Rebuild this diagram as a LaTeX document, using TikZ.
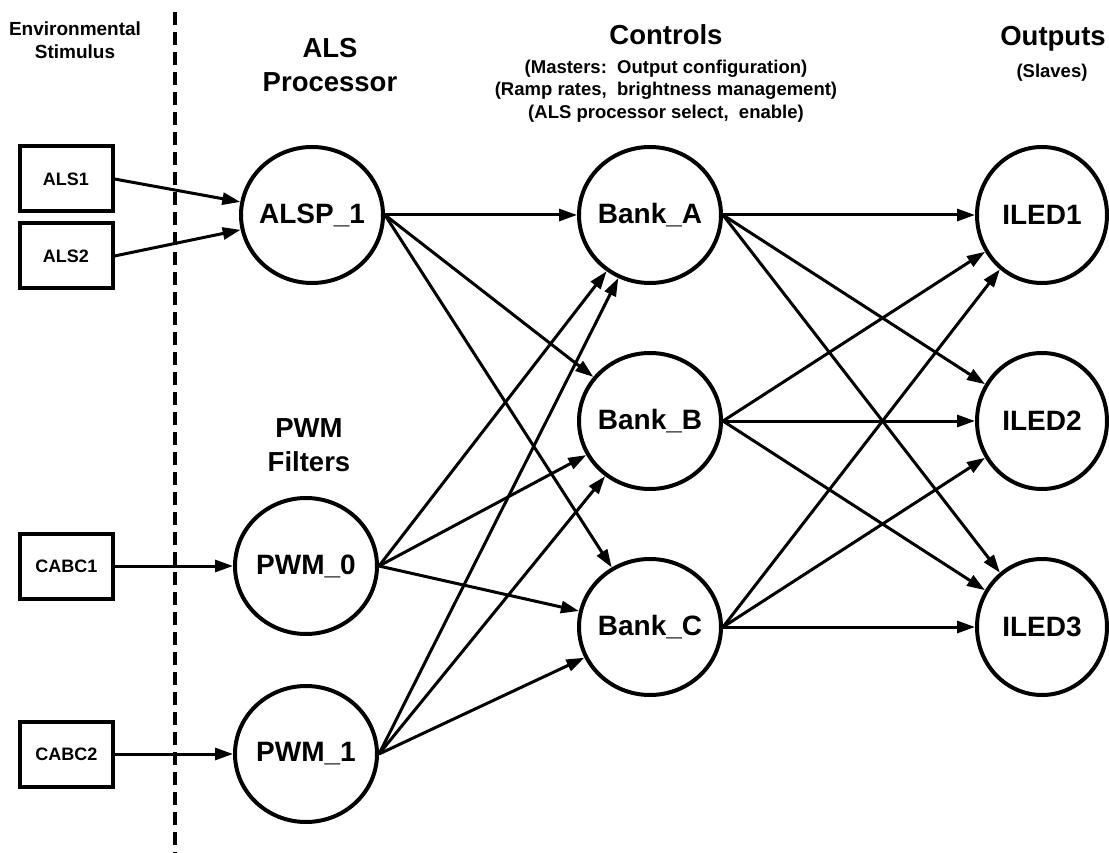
\documentclass[tikz,border=0pt]{standalone}
\usepackage{fontspec}
\setmainfont{Liberation Sans}
\usetikzlibrary{positioning,shapes.geometric,arrows.meta}

\tikzset{
  stimbox/.style={draw, line width=4pt, minimum width=93pt, minimum height=65pt, inner sep=0pt, font=\fontsize{18}{22}\selectfont\bfseries},
  proc/.style={ellipse, draw, line width=4pt, minimum width=142pt, minimum height=136pt, inner xsep=-20pt, inner ysep=0pt, font=\fontsize{28}{34}\selectfont\bfseries},
  outnode/.style={proc, minimum width=130pt},
  link/.style={line width=3pt, -{Triangle[length=18pt,width=12pt]}},
  heading/.style={align=center, font=\fontsize{27.5}{34}\selectfont\bfseries},
  note/.style={align=center, font=\fontsize{18.5}{22.5}\selectfont\bfseries},
}

\begin{document}
\begin{tikzpicture}[x=1pt, y=-1pt]
    \useasboundingbox (0,0) rectangle (1109,853);

    % column headings
    \node[note, font=\fontsize{19}{23}\selectfont\bfseries] (envhead) at (75,40) {Environmental\\Stimulus};
    \node[heading] (alshead) at (330,65) {ALS\\Processor};
    \node[heading] (pwmhead) at (309,445) {PWM\\Filters};
    \node[heading] (ctrlhead) at (666,35) {Controls};
    \node[note] (ctrlnote) at (666,91) {(Masters:\ \ Output configuration)\\(Ramp rates,\ \ brightness management)\\(ALS processor select,\ \ enable)};
    \node[heading] (outhead) at (1053,39) {Outputs};
    \node[note] (outnote) at (1052,73) {(Slaves)};

    % divider
    \coordinate (divtop) at (175,12);
    \coordinate (divbot) at (175,853);
    \draw[line width=3.5pt, dash pattern=on 13pt off 7pt] (divtop) -- (divbot);

    % processors and filters
    \node[proc] (alsp) at (312,215) {ALSP\_1};
    \node[proc] (pwm0) at (306,566) {PWM\_0};
    \node[proc, below=48pt of pwm0] (pwm1) {PWM\_1};

    % stimulus
    \node[stimbox] (als1) at (66,179) {ALS1};
    \node[stimbox, below=8pt of als1] (als2) {ALS2};
    \node[stimbox, left=118pt of pwm0] (cabc1) {CABC1};
    \node[stimbox, left=118pt of pwm1] (cabc2) {CABC2};

    % banks
    \node[proc, right=192pt of alsp] (banka) {Bank\_A};
    \node[proc, below=66pt of banka] (bankb) {Bank\_B};
    \node[proc, below=66pt of bankb] (bankc) {Bank\_C};

    % outputs
    \node[outnode, right=252pt of banka] (iled1) {ILED1};
    \node[outnode, right=252pt of bankb] (iled2) {ILED2};
    \node[outnode, right=252pt of bankc] (iled3) {ILED3};

    \draw[link] (als1.east) -- (alsp);
    \draw[link] (als2.east) -- (alsp);
    \draw[link] (cabc1) -- (pwm0);
    \draw[link] (cabc2) -- (pwm1);

    \foreach \src in {alsp,pwm0,pwm1}
        \foreach \dst in {banka,bankb,bankc}
            \draw[link] (\src.east) -- (\dst);

    \foreach \src in {banka,bankb,bankc}
        \foreach \dst in {iled1,iled2,iled3}
            \draw[link] (\src.east) -- (\dst);
\end{tikzpicture}
\end{document}
